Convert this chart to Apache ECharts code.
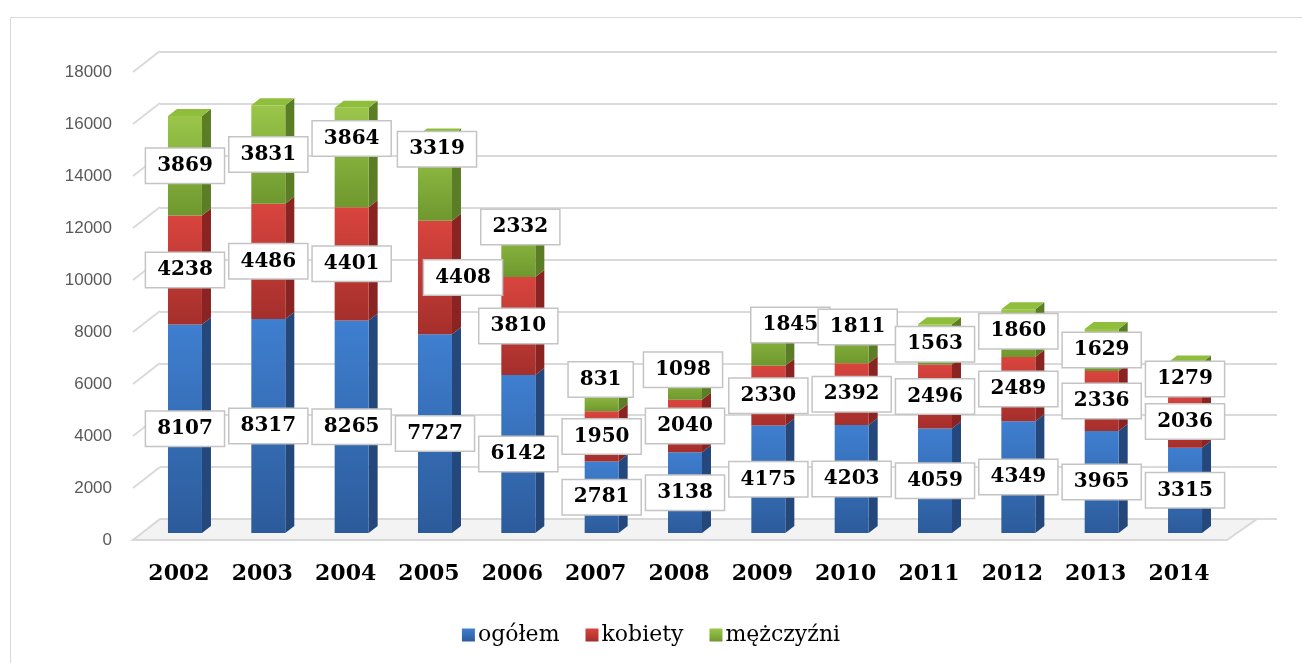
<!DOCTYPE html>
<html>
<head>
<meta charset="utf-8">
<script src="https://cdn.jsdelivr.net/npm/echarts@6/dist/echarts.min.js"></script>
<style>
  html, body { margin: 0; padding: 0; background: #fff; }
  #chart { width: 1302px; height: 663px; }
</style>
</head>
<body>
<div id="chart"></div>
<script>
const years = ['2002', '2003', '2004', '2005', '2006', '2007', '2008', '2009', '2010', '2011', '2012', '2013', '2014'];
const ogolem = [8107, 8317, 8265, 7727, 6142, 2781, 3138, 4175, 4203, 4059, 4349, 3965, 3315];
const kobiety = [4238, 4486, 4401, 4408, 3810, 1950, 2040, 2330, 2392, 2496, 2489, 2336, 2036];
const mezczyzni = [3869, 3831, 3864, 3319, 2332, 831, 1098, 1845, 1811, 1563, 1860, 1629, 1279];
const yTicks = [0, 2000, 4000, 6000, 8000, 10000, 12000, 14000, 16000, 18000];

// label nudges (Excel moved a few boxes by hand)
const labelShift = {
  kobiety: { 3: [28, 0] },
  mezczyzni: { 2: [0, -19], 3: [2, -29], 4: [2, -20], 5: [-1, -21], 6: [-2, -16], 7: [22, -17], 8: [6, -13], 10: [0, -2] }
}

const chart = echarts.init(document.getElementById('chart'))

const vgrad = (top, bottom) => new echarts.graphic.LinearGradient(0, 0, 0, 1, [
  { offset: 0, color: top },
  { offset: 1, color: bottom }
])

const sideColors = ['#24487c', '#8a2422', '#5b7d25']
const barW = 34
const depthX = 9
const depthY = 7

const boxLabel = {
  show: true,
  position: 'inside',
  color: '#000',
  fontFamily: 'DejaVu Serif',
  fontWeight: 'bold',
  fontSize: 20,
  backgroundColor: '#fff',
  borderColor: '#c4c4c4',
  borderWidth: 1.5,
  padding: [8, 11, 6, 11]
}

function withShift (values, key) {
  return values.map((v, i) => {
    const s = labelShift[key] && labelShift[key][i]
    return s ? { value: v, label: { offset: s } } : v
  })
}

const option = {
  animation: false,
  graphic: [{
    type: 'rect',
    shape: { x: 10.5, y: 17.5, width: 1300, height: 660 },
    style: { fill: 'none', stroke: '#d9d9d9', lineWidth: 1 },
    silent: true
  }],
  legend: {
    data: ['ogółem', 'kobiety', 'mężczyźni'],
    top: 619,
    left: 'center',
    icon: 'rect',
    itemWidth: 13,
    itemHeight: 13,
    itemGap: 26,
    textStyle: { fontFamily: 'DejaVu Serif', fontSize: 22, color: '#000', padding: [0, 0, 0, -2] }
  },
  grid: [
    { left: 143.3, right: 75.3, top: 70, bottom: 130 },
    { left: 122, right: 75, top: 72, bottom: 123 },
    { left: 160, right: 25, top: 52, bottom: 144 }
  ],
  xAxis: [
    {
      type: 'category',
      gridIndex: 0,
      data: years,
      axisLine: { show: false },
      axisTick: { show: false },
      axisLabel: {
        margin: 30,
        fontFamily: 'DejaVu Serif',
        fontWeight: 'bold',
        fontSize: 22,
        color: '#000',
        padding: [0, 12, 0, 0]
      }
    },
    { type: 'value', gridIndex: 1, min: 0, max: 1, show: false },
    { type: 'value', gridIndex: 2, min: 0, max: 1, show: false }
  ],
  yAxis: [
    { type: 'value', gridIndex: 0, min: 0, max: 18000, show: false },
    {
      type: 'value',
      gridIndex: 1,
      min: 0,
      max: 18000,
      interval: 2000,
      axisLine: { show: false },
      axisTick: { show: false },
      splitLine: { show: false },
      axisLabel: {
        color: '#595959',
        fontSize: 17,
        fontFamily: 'Liberation Sans',
        margin: 10,
        formatter: v => String(v)
      }
    },
    {
      type: 'value',
      gridIndex: 2,
      min: 0,
      max: 18000,
      interval: 2000,
      axisLine: { show: false },
      axisTick: { show: false },
      axisLabel: { show: false },
      splitLine: { lineStyle: { color: '#dadada', width: 2 } }
    }
  ],
  series: [
    {
      // diagonal wall edges + floor
      type: 'custom',
      xAxisIndex: 1,
      yAxisIndex: 1,
      silent: true,
      z: 0,
      data: yTicks.map(v => [0, v]),
      renderItem (params, api) {
        const p = api.coord([0, api.value(1)])
        const x0 = p[0] + 11
        const y0 = p[1]
        if (api.value(1) === 0) {
          const right = params.coordSys.x + params.coordSys.width
          return {
            type: 'polygon',
            shape: { points: [[x0, y0], [right, y0], [right + 30, y0 - 21], [x0 + 27, y0 - 21]] },
            style: { fill: '#f3f3f3', stroke: '#d8d8d8', lineWidth: 2 }
          }
        }
        return {
          type: 'line',
          shape: { x1: x0, y1: y0, x2: x0 + 27, y2: y0 - 21 },
          style: { stroke: '#dadada', lineWidth: 2 }
        }
      }
    },
    {
      // side faces and top cap of the columns
      type: 'custom',
      xAxisIndex: 0,
      yAxisIndex: 0,
      silent: true,
      z: 1,
      data: years.map((y, i) => [i, ogolem[i], kobiety[i], mezczyzni[i]]),
      renderItem (params, api) {
        const i = api.value(0)
        const vals = [api.value(1), api.value(2), api.value(3)]
        const children = []
        let base = 0
        const cx = api.coord([i, 0])[0]
        const r = cx + barW / 2
        const l = cx - barW / 2
        let yTop = 0
        vals.forEach((v, k) => {
          const yb = api.coord([i, base])[1]
          const yt = api.coord([i, base + v])[1]
          children.push({
            type: 'polygon',
            shape: { points: [[r, yb], [r + depthX, yb - depthY], [r + depthX, yt - depthY], [r, yt]] },
            style: { fill: sideColors[k] }
          })
          base += v
          yTop = yt
        })
        children.push({
          type: 'polygon',
          shape: { points: [[l, yTop], [r, yTop], [r + depthX, yTop - depthY], [l + depthX, yTop - depthY]] },
          style: { fill: '#8fbd3c' }
        })
        return { type: 'group', children }
      }
    },
    {
      name: 'ogółem',
      type: 'bar',
      stack: 'a',
      barWidth: barW,
      z: 3,
      itemStyle: { color: vgrad('#3f7fd0', '#2c5b9b') },
      label: boxLabel,
      data: withShift(ogolem, 'ogolem')
    },
    {
      name: 'kobiety',
      type: 'bar',
      stack: 'a',
      barWidth: barW,
      z: 3,
      itemStyle: { color: vgrad('#d9443e', '#a52f2b') },
      label: boxLabel,
      data: withShift(kobiety, 'kobiety')
    },
    {
      name: 'mężczyźni',
      type: 'bar',
      stack: 'a',
      barWidth: barW,
      z: 3,
      itemStyle: { color: vgrad('#9bc64a', '#6e982e') },
      label: boxLabel,
      data: withShift(mezczyzni, 'mezczyzni')
    }
  ]
}

chart.setOption(option)
</script>
</body>
</html>
